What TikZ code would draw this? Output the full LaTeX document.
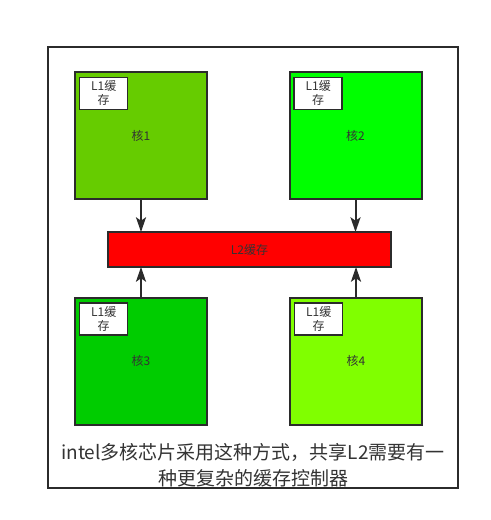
\documentclass[tikz,border=0pt]{standalone}
\usepackage{fontspec}
\setmainfont{Noto Sans CJK SC}
\usetikzlibrary{arrows.meta}
\definecolor{coreA}{HTML}{66CC00}
\definecolor{coreB}{HTML}{00FF00}
\definecolor{coreC}{HTML}{00CC00}
\definecolor{coreD}{HTML}{80FF00}
\definecolor{lineC}{HTML}{2B2B2B}
\definecolor{textC}{HTML}{333333}
\begin{document}
\begin{tikzpicture}[x=0.75pt, y=-0.75pt,
    core/.style ={rectangle, draw=lineC, line width=1.5pt, inner sep=0pt, outer sep=0pt,
                  minimum width=99pt, minimum height=95.25pt, text=textC, font=\fontsize{9}{11}\selectfont},
    cache/.style ={rectangle, draw=lineC, line width=1.2pt, fill=white, inner sep=0pt, outer sep=0pt,
                  minimum width=36pt, minimum height=24pt, align=center, text=textC,
                  font=\fontsize{9}{10.5}\selectfont},
    shared/.style ={rectangle, draw=lineC, line width=1.5pt, fill=red, inner sep=0pt, outer sep=0pt,
                  minimum width=212.25pt, minimum height=26.25pt, text=textC, font=\fontsize{9}{11}\selectfont},
    link/.style ={line width=1.5pt, lineC, -{Stealth[length=11pt, width=7.5pt, inset=2.5pt]}}]
   \useasboundingbox (0,0) rectangle (490,520);
   % outer frame
   \node[draw=lineC, line width=1.5pt, inner sep=0pt, minimum width=307.5pt, minimum height=330.75pt] (frame) at (253,267.5) {};
   \node[core, fill=coreA] (k1) at (141,135.5) {核1};
   \node[core, fill=coreB] (k2) at (355.5,135.5) {核2};
   \node[core, fill=coreC] (k3) at (141,361) {核3};
   \node[core, fill=coreD] (k4) at (356,361) {核4};
   \node[shared] (l2) at (249.5,249.5) {L2缓存};
   \node[cache, anchor=north west] (c1) at ([shift={(3.5pt,-4pt)}]k1.north west) {L1缓\\存};
   \node[cache, anchor=north west] (c2) at ([shift={(3.5pt,-4pt)}]k2.north west) {L1缓\\存};
   \node[cache, anchor=north west] (c3) at ([shift={(3.5pt,-4pt)}]k3.north west) {L1缓\\存};
   \node[cache, anchor=north west] (c4) at ([shift={(3.5pt,-4pt)}]k4.north west) {L1缓\\存};
   \node[align=center, text=textC, font=\fontsize{14.25}{19.5}\selectfont] (note) at (253,465)
      {intel多核芯片采用这种方式，共享L2需要有一\\种更复杂的缓存控制器};
   \draw[link] (k1.south) -- (k1.south |- l2.north);
   \draw[link] (k2.south) -- (k2.south |- l2.north);
   \draw[link] (k3.north) -- (k3.north |- l2.south);
   \draw[link] (k4.north) -- (k4.north |- l2.south);
\end{tikzpicture}
\end{document}
